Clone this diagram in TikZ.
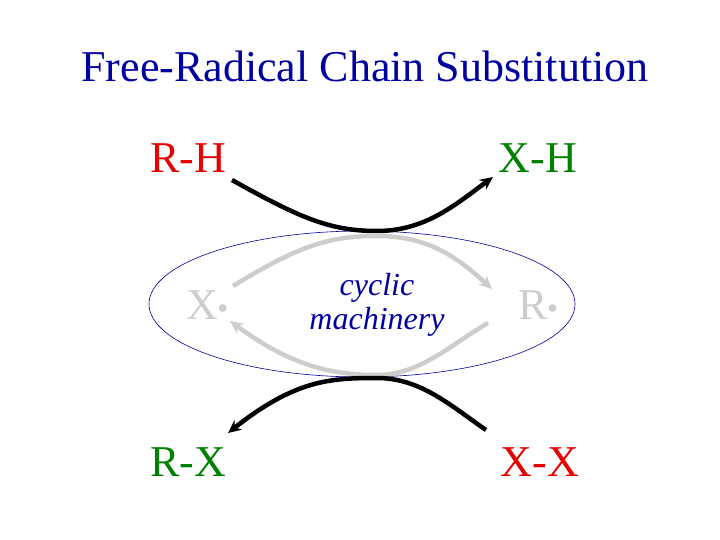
\documentclass[tikz,border=0pt]{standalone}
\usepackage{fontspec}
\setmainfont{Liberation Serif}
\usetikzlibrary{shapes.geometric,arrows.meta}
\definecolor{tred}{RGB}{230,0,0}
\definecolor{tgreen}{RGB}{0,128,0}
\definecolor{tblue}{RGB}{0,0,160}
\definecolor{tgray}{RGB}{205,205,205}
\begin{document}
\begin{tikzpicture}[x=1pt,y=-1pt,
  lbl/.style={inner sep=0pt,font=\fontsize{44}{48}\selectfont},
  blk/.style={line width=4.5pt,-{Stealth[length=13pt,width=12pt]}},
  gry/.style={line width=4.5pt,tgray,-{Stealth[length=13pt,width=12pt]}}]
\useasboundingbox (0,0) rectangle (720,540);
\node[inner sep=0pt,font=\fontsize{44}{48}\selectfont,tblue] (title) at (365,66) {Free-Radical Chain Substitution};
\node[lbl,tred] (rh) at (188,158) {R-H};
\node[lbl,tgreen] (xh) at (538,158) {X-H};
\node[lbl,tgreen] (rx) at (188,462) {R-X};
\node[lbl,tred] (xx) at (540,462) {X-X};
\node[lbl,tgray] (xr) at (207,305) {X\raisebox{0.3ex}{\scalebox{0.8}{$\bullet$}}};
\node[lbl,tgray] (rr) at (538,305) {R\raisebox{0.3ex}{\scalebox{0.8}{$\bullet$}}};
\node[tblue,ellipse,draw,line width=0.6pt,minimum width=426pt,minimum height=146pt,inner sep=0pt] (ell) at (362,304) {};
\node[tblue,align=center,font=\fontsize{32}{34}\selectfont\itshape] (cm) at (377,305) {cyclic\\machinery};
\coordinate (a1) at (232,180); \coordinate (a2) at (493,177);
\coordinate (b1) at (486,430); \coordinate (b2) at (228,433);
\coordinate (c1) at (233,286); \coordinate (c2) at (492,289);
\coordinate (d1) at (488,323); \coordinate (d2) at (230,321);
\draw[gry] (c1) .. controls (300,245) and (330,236) .. (377,236) .. controls (420,236) and (450,250) .. (c2);
\draw[gry] (d1) .. controls (450,345) and (420,375) .. (377,375) .. controls (330,375) and (290,365) .. (d2);
\draw[blk] (a1) .. controls (300,218) and (330,231) .. (377,231) .. controls (425,231) and (455,205) .. (a2);
\draw[blk] (b1) .. controls (450,405) and (420,378) .. (377,378) .. controls (330,378) and (295,380) .. (b2);
\end{tikzpicture}
\end{document}
